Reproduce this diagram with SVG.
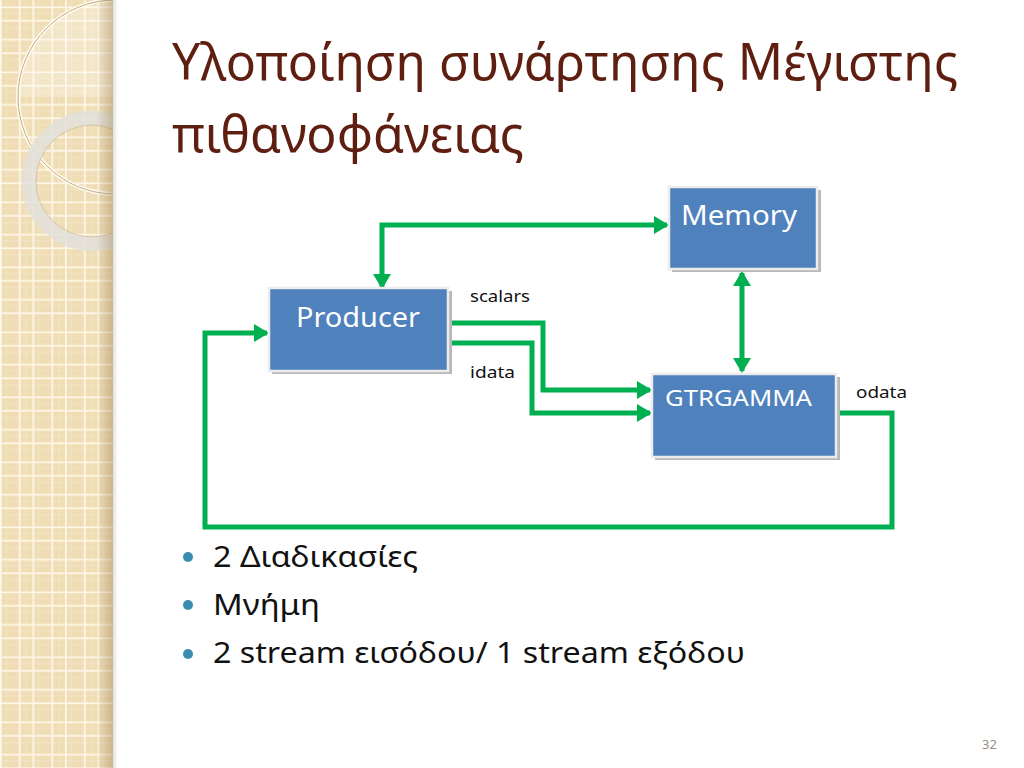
<svg xmlns="http://www.w3.org/2000/svg" width="1024" height="768" viewBox="0 0 1024 768">
<style>
.title{font-family:"Noto Sans","DejaVu Sans",sans-serif;font-size:51px;fill:#5E1E10}
.bul{font-family:"Noto Sans","DejaVu Sans",sans-serif;font-size:29px;fill:#111}
.box{fill:#4F81BD;stroke:#ececec;stroke-width:2.5}
.shadow{fill:#b8b8b8}
.bt{font-family:"Noto Sans","Open Sans",sans-serif;fill:#fff}
.lbl{font-family:"Noto Sans","Open Sans",sans-serif;font-size:17px;fill:#111}
.con{fill:none;stroke:#00B050;stroke-width:5;stroke-linejoin:miter}
</style>
<defs>
<pattern id="grid" x="0" y="0" width="32.5" height="32.5" patternUnits="userSpaceOnUse">
<rect width="32.5" height="32.5" fill="#EFDDB5"/>
<rect x="6" y="0" width="1" height="32.5" fill="#F3E4C4"/>
<rect x="26" y="0" width="1" height="32.5" fill="#F3E4C4"/>
<rect x="0" y="13" width="32.5" height="1" fill="#F3E4C4"/>
<rect x="0" y="27" width="32.5" height="1" fill="#F3E4C4"/>
<rect x="0" y="0" width="1.6" height="32.5" fill="#FFF9EC"/>
<rect x="19" y="0" width="1.6" height="32.5" fill="#FFF9EC"/>
<rect x="0" y="6.5" width="32.5" height="1.6" fill="#FFF9EC"/>
<rect x="0" y="20" width="32.5" height="1.6" fill="#FFF9EC"/>
</pattern>
<linearGradient id="edge" x1="0" y1="0" x2="1" y2="0">
<stop offset="0" stop-color="#8a6a3a" stop-opacity="0"/>
<stop offset="1" stop-color="#8a6a3a" stop-opacity="0.35"/>
</linearGradient>
<linearGradient id="edge2" x1="0" y1="0" x2="1" y2="0">
<stop offset="0" stop-color="#000" stop-opacity="0.12"/>
<stop offset="1" stop-color="#000" stop-opacity="0"/>
</linearGradient>
<clipPath id="strip"><rect x="0" y="0" width="113" height="768"/></clipPath>
<marker id="ah" markerUnits="userSpaceOnUse" markerWidth="15" markerHeight="18" refX="13" refY="9" orient="auto-start-reverse">
<path d="M0,0 L15,9 L0,18 z" fill="#00B050"/>
</marker>
</defs>
<rect width="1024" height="768" fill="#fff"/>
<g id="strip-deco">
<rect x="0" y="0" width="113" height="768" fill="url(#grid)"/>
<g clip-path="url(#strip)">
<path d="M18,97 A97,97 0 0 1 115,0 L115,97 Z" fill="#ffffff" opacity="0.25"/>
<circle cx="115" cy="97" r="97" fill="none" stroke="#FFFBEF" stroke-width="4"/>
<circle cx="115" cy="97" r="97" fill="none" stroke="#a88a5a" stroke-width="1" opacity="0.7"/>
<circle cx="92" cy="181" r="63" fill="none" stroke="#e2e0dc" stroke-width="14" opacity="0.85"/>
<circle cx="92" cy="181" r="56" fill="none" stroke="#b09a7a" stroke-width="0.8" opacity="0.5"/>
<rect x="96" y="0" width="17" height="768" fill="url(#edge)"/>
</g>
<rect x="113" y="0" width="5" height="768" fill="url(#edge2)"/>
</g>
<g id="title">
<text class="title" x="172" y="80" textLength="786" lengthAdjust="spacingAndGlyphs">Υλοποίηση συνάρτησης Μέγιστης</text>
<text class="title" x="172" y="152" textLength="352" lengthAdjust="spacingAndGlyphs">πιθανοφάνειας</text>
</g>
<g id="connectors">
<path class="con" d="M382,287 V225 H667" marker-start="url(#ah)" marker-end="url(#ah)"/>
<path class="con" d="M742,273 V371" marker-start="url(#ah)" marker-end="url(#ah)"/>
<path class="con" d="M449,323 H543 V390 H650" marker-end="url(#ah)"/>
<path class="con" d="M449,343 H532 V413 H650" marker-end="url(#ah)"/>
<path class="con" d="M837,413 H892 V527 H205 V333 H267" marker-end="url(#ah)"/>
</g>
<g id="node-producer">
<rect class="shadow" x="272" y="291" width="180" height="83"/>
<rect class="box" x="269" y="288" width="179" height="83"/>
<text class="bt" x="296" y="327" font-size="28" textLength="124" lengthAdjust="spacingAndGlyphs">Producer</text>
</g>
<g id="node-memory">
<rect class="shadow" x="672" y="190" width="149" height="82"/>
<rect class="box" x="669" y="187" width="148" height="82"/>
<text class="bt" x="681" y="225" font-size="28" textLength="116" lengthAdjust="spacingAndGlyphs">Memory</text>
</g>
<g id="node-gtrgamma">
<rect class="shadow" x="655" y="377" width="185" height="83"/>
<rect class="box" x="652" y="374" width="184" height="83"/>
<text class="bt" x="665" y="406" font-size="21" textLength="147" lengthAdjust="spacingAndGlyphs">GTRGAMMA</text>
</g>
<g id="labels">
<text class="lbl" x="470" y="302" textLength="60" lengthAdjust="spacingAndGlyphs">scalars</text>
<text class="lbl" x="470" y="378" textLength="45" lengthAdjust="spacingAndGlyphs">idata</text>
<text class="lbl" x="856" y="398" textLength="51" lengthAdjust="spacingAndGlyphs">odata</text>
</g>
<g id="bullets">
<circle cx="188" cy="557" r="5" fill="#3A8DAE"/>
<circle cx="188" cy="605" r="5" fill="#3A8DAE"/>
<circle cx="188" cy="654" r="5" fill="#3A8DAE"/>
<text class="bul" x="213" y="567" textLength="205" lengthAdjust="spacingAndGlyphs">2 Διαδικασίες</text>
<text class="bul" x="213" y="615" textLength="107" lengthAdjust="spacingAndGlyphs">Μνήμη</text>
<text class="bul" x="213" y="663" textLength="532" lengthAdjust="spacingAndGlyphs">2 stream εισόδου/ 1 stream εξόδου</text>
</g>
<text x="982" y="749" font-family="Noto Sans, sans-serif" font-size="13" fill="#9a9080">32</text>
</svg>
